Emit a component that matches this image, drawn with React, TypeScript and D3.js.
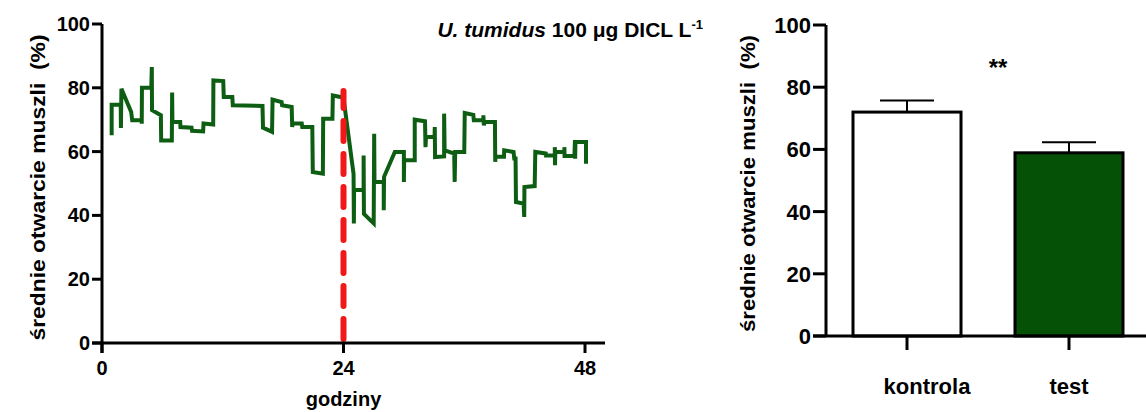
import React from "react";
import * as d3 from "d3";

// Time course of mean shell opening (%), U. tumidus exposed to 100 µg DICL L-1
const hours = [
  0.96, 0.96, 1.86, 1.88, 1.93, 2.9, 3.0, 3.95, 3.95, 3.97, 4.9, 4.95, 4.97, 5.85, 5.88,
  6.94, 6.97, 7.0, 7.77, 7.8, 8.9, 8.95, 10.05, 10.09, 11.05, 11.07, 12.05, 12.1, 12.95,
  13.0, 15.95, 16.0, 16.9, 16.95, 17.85, 17.9, 18.85, 18.9, 18.95, 19.85, 19.9, 20.9,
  20.95, 21.95, 21.98, 22.9, 22.94, 23.7, 24.0, 25.0, 25.03, 25.05, 26.0, 26.0, 26.03,
  27.0, 27.05, 27.08, 28.0, 28.0, 28.03, 29.1, 30.0, 30.0, 30.03, 31.08, 31.08, 32.1,
  32.15, 32.2, 33.05, 33.07, 33.1, 34.0, 34.0, 34.05, 35.0, 35.05, 35.1, 36.0, 36.05,
  36.9, 36.95, 37.9, 37.9, 37.95, 38.0, 39.05, 39.08, 39.1, 39.95, 39.97, 40.9, 40.97,
  41.1, 41.14, 41.9, 41.96, 41.98, 43.0, 43.06, 44.1, 44.12, 45.0, 45.0, 45.02, 45.05,
  45.95, 45.95, 45.97, 46.95, 47.0, 47.02, 47.05, 48.1, 48.1,
];
const opening = [
  65.1, 74.7, 74.7, 67.4, 79.7, 72.4, 69.8, 69.8, 68.7, 80.0, 80.0, 86.5, 73.0, 71.4, 63.5,
  63.5, 78.5, 69.3, 69.3, 67.7, 67.5, 66.5, 66.3, 68.8, 68.5, 82.3, 82.1, 77.1, 77.1,
  74.5, 74.3, 67.5, 66.2, 76.3, 75.5, 74.5, 74.0, 67.7, 68.8, 68.8, 67.7, 67.7,
  53.6, 53.1, 70.3, 70.3, 77.6, 77.1, 76.8, 53.0, 37.5, 48.0, 48.0, 58.8, 40.5,
  37.5, 65.6, 50.5, 50.5, 41.6, 52.1, 59.9, 59.9, 50.5, 57.3, 57.3, 70.0, 69.5,
  61.4, 64.6, 64.6, 67.7, 58.3, 58.5, 71.9, 60.4, 59.4, 50.5, 59.9, 59.9, 72.1,
  71.5, 69.8, 69.8, 71.4, 68.2, 69.3, 69.3, 56.8, 58.4, 58.4, 60.4, 59.9, 57.8,
  57.8, 44.2, 43.7, 39.5, 48.9, 49.2, 59.9, 59.4, 58.8, 58.8, 61.4, 55.7, 59.9,
  59.9, 61.4, 58.6, 58.6, 63.5, 57.8, 63.0, 63.0, 56.2,
];

// Exposure start and top of the marker line
const exposureHour = 24;
const markerTop = 79;

const hourTicks = [0, 24, 48];
const percentTicks = [0, 20, 40, 60, 80, 100];

// Mean opening per group with SEM
const groups = ["kontrola", "test"];
const groupMeans = [72, 58.9];
const groupSem = [3.7, 3.4];
const groupFills = ["#ffffff", "#055206"];
const significance = "**";

const yLabel = "średnie otwarcie muszli  (%)";
const FONT = "'Liberation Sans', Arial, sans-serif";

export default function App() {
  // left panel scales
  const x = d3.scaleLinear().domain([0, 48]).range([102, 585]);
  const y = d3.scaleLinear().domain([0, 100]).range([343, 24]);
  const pts = hours.map((h, i) => [h, opening[i]] as [number, number]);
  const linePath = d3
    .line<[number, number]>()
    .x((d) => x(d[0]))
    .y((d) => y(d[1]))(pts) as string;

  // right panel scales
  const xb = d3
    .scaleBand<string>()
    .domain(groups)
    .range([826, 1150])
    .paddingInner(1 / 3)
    .paddingOuter(1 / 6);
  const yb = d3.scaleLinear().domain([0, 100]).range([336, 25]);
  const bw = xb.bandwidth();

  return (
    <svg
      width={1146}
      height={412}
      style={{ position: "absolute", left: 0, top: 0, background: "#fff" }}
      fontFamily={FONT}
      fontWeight="bold"
    >
      {/* ---------- left panel: time course ---------- */}
      <path d={linePath} fill="none" stroke="#0d5e12" strokeWidth={4} strokeLinejoin="miter" />
      <line
        x1={x(exposureHour)}
        x2={x(exposureHour)}
        y1={y(0) - 4}
        y2={y(markerTop)}
        stroke="#f01818"
        strokeWidth={6}
        strokeDasharray="20 13"
        strokeLinecap="round"
      />
      {/* axes */}
      <line x1={x(0)} x2={x(0)} y1={y(100)} y2={y(0) + 10} stroke="#000" strokeWidth={3} />
      <line x1={x(0) - 10} x2={605} y1={y(0)} y2={y(0)} stroke="#000" strokeWidth={3} />
      {percentTicks.map((t) => (
        <g key={"ly" + t}>
          <line x1={x(0) - 10} x2={x(0)} y1={y(t)} y2={y(t)} stroke="#000" strokeWidth={3} />
          <text x={x(0) - 12} y={y(t) + 7} textAnchor="end" fontSize={20}>
            {t}
          </text>
        </g>
      ))}
      {hourTicks.map((t) => (
        <g key={"lx" + t}>
          <line x1={x(t)} x2={x(t)} y1={y(0)} y2={y(0) + 10} stroke="#000" strokeWidth={3} />
          <text x={x(t)} y={y(0) + 32} textAnchor="middle" fontSize={20}>
            {t}
          </text>
        </g>
      ))}
      <text x={x(24)} y={406} textAnchor="middle" fontSize={20}>
        godziny
      </text>
      <text
        transform={`translate(45, ${(y(0) + y(100)) / 2 + 4}) rotate(-90)`}
        textAnchor="middle"
        fontSize={20}
        textLength={306}
        lengthAdjust="spacingAndGlyphs"
        style={{ whiteSpace: "pre" }}
      >
        {yLabel}
      </text>
      <text x={703} y={37} textAnchor="end" fontSize={21}>
        <tspan fontStyle="italic">U. tumidus</tspan>
        <tspan> 100 μg DICL L</tspan>
        <tspan dy={-8} fontSize={13}>
          -1
        </tspan>
      </text>

      {/* ---------- right panel: group means ---------- */}
      {groups.map((g, i) => {
        const cx = (xb(g) as number) + bw / 2;
        const top = yb(groupMeans[i]);
        const errTop = yb(groupMeans[i] + groupSem[i]);
        return (
          <g key={g}>
            <line x1={cx} x2={cx} y1={top} y2={errTop} stroke="#000" strokeWidth={2} />
            <line x1={cx - bw / 4} x2={cx + bw / 4} y1={errTop} y2={errTop} stroke="#000" strokeWidth={2} />
            <rect
              x={xb(g)}
              y={top}
              width={bw}
              height={yb(0) - top}
              fill={groupFills[i]}
              stroke="#000"
              strokeWidth={3}
            />
            <line x1={cx} x2={cx} y1={yb(0)} y2={yb(0) + 14} stroke="#000" strokeWidth={3} />
            <text x={cx + (i === 0 ? 20 : 0)} y={394} textAnchor="middle" fontSize={22}>
              {g}
            </text>
          </g>
        );
      })}
      <line x1={826} x2={826} y1={yb(100)} y2={yb(0)} stroke="#000" strokeWidth={3} />
      <line x1={813} x2={1146} y1={yb(0)} y2={yb(0)} stroke="#000" strokeWidth={3} />
      {percentTicks.map((t) => (
        <g key={"ry" + t}>
          <line x1={813} x2={826} y1={yb(t)} y2={yb(t)} stroke="#000" strokeWidth={3} />
          <text x={811} y={yb(t) + 8} textAnchor="end" fontSize={22}>
            {t}
          </text>
        </g>
      ))}
      <text
        transform={`translate(755, ${(yb(0) + yb(100)) / 2 + 3}) rotate(-90)`}
        textAnchor="middle"
        fontSize={21}
        textLength={297}
        lengthAdjust="spacingAndGlyphs"
        style={{ whiteSpace: "pre" }}
      >
        {yLabel}
      </text>
      <text x={998} y={76} textAnchor="middle" fontSize={24}>
        {significance}
      </text>
    </svg>
  );
}
